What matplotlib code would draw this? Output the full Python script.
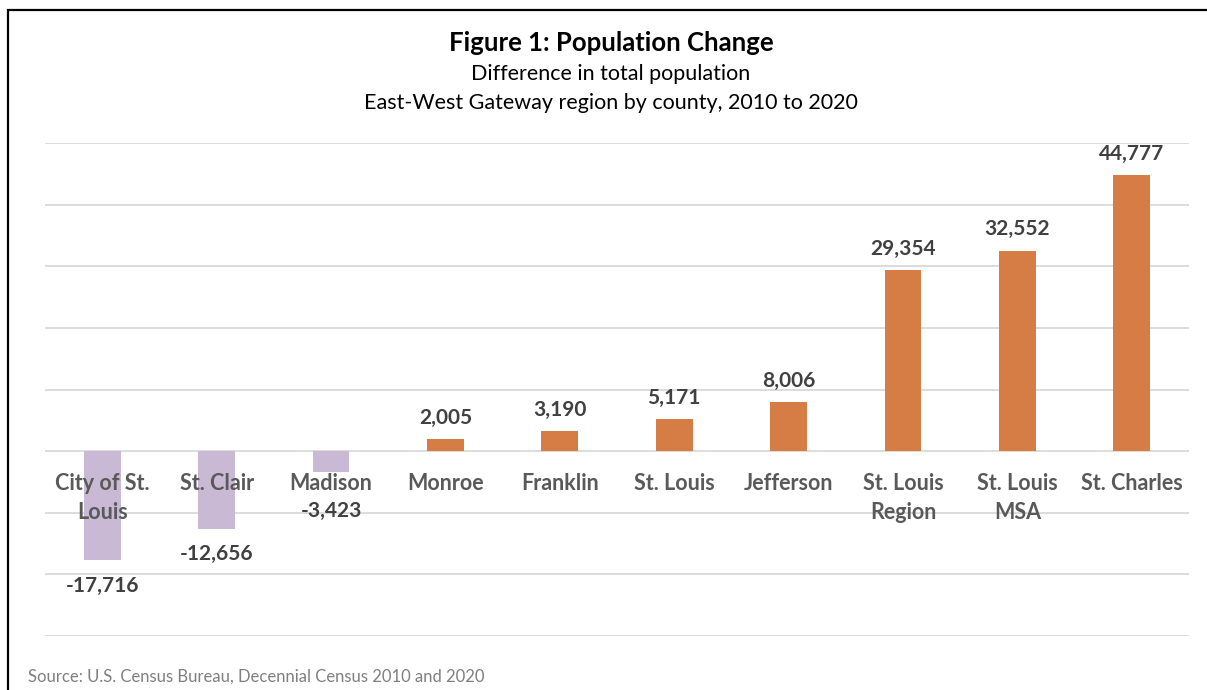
import matplotlib.pyplot as plt
from matplotlib.patches import Rectangle

plt.rcParams['font.family'] = ['Lato', 'DejaVu Sans']

counties = ['City of St.\nLouis', 'St. Clair', 'Madison', 'Monroe', 'Franklin',
            'St. Louis', 'Jefferson', 'St. Louis\nRegion', 'St. Louis\nMSA', 'St. Charles']
change = [-17716, -12656, -3423, 2005, 3190, 5171, 8006, 29354, 32552, 44777]

POS = '#d57d45'
NEG = '#c9b9d4'
VAL_TXT = '#404040'
CAT_TXT = '#595959'

fig = plt.figure(figsize=(12.07, 6.9), dpi=100)
ax = fig.add_axes([45 / 1207, 1 - 636 / 690, (1189 - 45) / 1207, (636 - 143) / 690])

x = range(len(counties))
colors = [POS if v >= 0 else NEG for v in change]
ax.bar(x, change, width=0.32, color=colors, zorder=2)

ax.set_xlim(-0.5, len(counties) - 0.5)
ax.set_ylim(-30000, 50000)
ax.set_yticks(range(-30000, 50001, 10000))
ax.yaxis.grid(True, color='#d9d9d9', linewidth=1.3, zorder=0)
ax.tick_params(left=False, bottom=False, labelleft=False, labelbottom=False)
for s in ax.spines.values():
    s.set_visible(False)

# value labels above / below each bar; short negative bars get their
# label pushed under the category name so the two don't collide
for i, v in enumerate(change):
    if v >= 0:
        ax.annotate(f'{v:,}', (i, v), xytext=(0, 8), textcoords='offset points',
                    ha='center', va='bottom', fontsize=15, fontweight='bold', color=VAL_TXT)
    else:
        ax.annotate(f'-{abs(v):,}', (i, min(v, -5600)), xytext=(0, -11), textcoords='offset points',
                    ha='center', va='top', fontsize=15, fontweight='bold', color=VAL_TXT)

# category names sit just under the zero line
for i, name in enumerate(counties):
    ax.annotate(name, (i, 0), xytext=(0, -16), textcoords='offset points',
                ha='center', va='top', fontsize=15.5, fontweight='bold', color=CAT_TXT,
                linespacing=1.45, zorder=3)

fig.text(611 / 1207, 1 - 43 / 690, 'Figure 1: Population Change', ha='center', va='center',
         fontsize=18.5, fontweight='bold', color='black')
fig.text(611 / 1207, 1 - 74 / 690, 'Difference in total population', ha='center', va='center',
         fontsize=15.5, color='black')
fig.text(611 / 1207, 1 - 103 / 690, 'East-West Gateway region by county, 2010 to 2020',
         ha='center', va='center', fontsize=15.5, color='black')
fig.text(28 / 1207, 1 - 677 / 690, 'Source: U.S. Census Bureau, Decennial Census 2010 and 2020',
         ha='left', va='center', fontsize=12, color='#7f7f7f')

fig.patches.append(Rectangle((8 / 1207, -0.1), 1.2, 1 - 9.5 / 690 + 0.1, transform=fig.transFigure,
                             fill=False, edgecolor='black', linewidth=1.6, clip_on=False))

fig.savefig('out.png', dpi=100)
